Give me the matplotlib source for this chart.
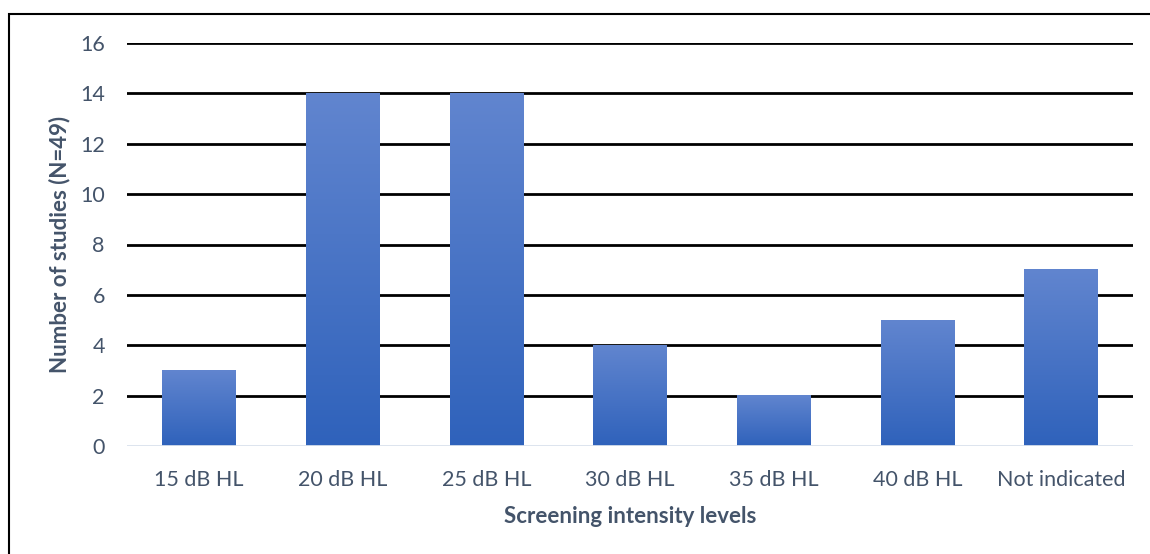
import numpy as np
import matplotlib.pyplot as plt
from matplotlib.patches import Rectangle

levels = ["15 dB HL", "20 dB HL", "25 dB HL", "30 dB HL", "35 dB HL", "40 dB HL", "Not indicated"]
studies = [3, 14, 14, 4, 2, 5, 7]

plt.rcParams['font.family'] = ['Lato', 'DejaVu Sans']
text_color = '#44546A'

fig = plt.figure(figsize=(11.5, 5.54), dpi=100)
ax = fig.add_axes([127 / 1150, 1 - 446 / 554, 1006 / 1150, 403 / 554])

x = np.arange(len(levels))
bars = ax.bar(x, studies, width=0.51, color='none', edgecolor='none', zorder=3)

# vertical gradient, lighter at the top of each bar
top = np.array([97, 133, 207]) / 255
bottom = np.array([47, 98, 187]) / 255
t = np.linspace(0, 1, 256)[:, None]
grad = (bottom + (top - bottom) * t)[:, None, :].repeat(2, axis=1)
for b in bars:
    x0, w, h = b.get_x(), b.get_width(), b.get_height()
    ax.imshow(grad, extent=(x0, x0 + w, 0, h), origin='lower',
              aspect='auto', interpolation='bilinear', zorder=3)

ax.set_xlim(-0.5, len(levels) - 0.5)
ax.set_ylim(0, 16)
ax.set_yticks(range(0, 17, 2))
ax.set_xticks(x)
ax.set_xticklabels(levels)

for y in range(2, 17, 2):
    ax.axhline(y, color='black', linewidth=2, zorder=2)
ax.axhline(0, color='#D9E1EC', linewidth=2, zorder=4)

for s in ax.spines.values():
    s.set_visible(False)
ax.tick_params(length=0, labelsize=15.5, colors=text_color)
ax.tick_params(axis='y', pad=16)
ax.tick_params(axis='x', pad=17)

ax.set_xlabel('Screening intensity levels', fontsize=16, fontweight='bold',
              color=text_color, labelpad=12)
ax.set_ylabel('Number of studies (N=49)', fontsize=16, fontweight='bold',
              color=text_color, labelpad=7)

fig.add_artist(Rectangle((9 / 1150, -0.1), 1.2, 1.1 - 14 / 554,
                         transform=fig.transFigure, fill=False,
                         edgecolor='black', linewidth=1.5))

fig.savefig('out.png', dpi=100)
